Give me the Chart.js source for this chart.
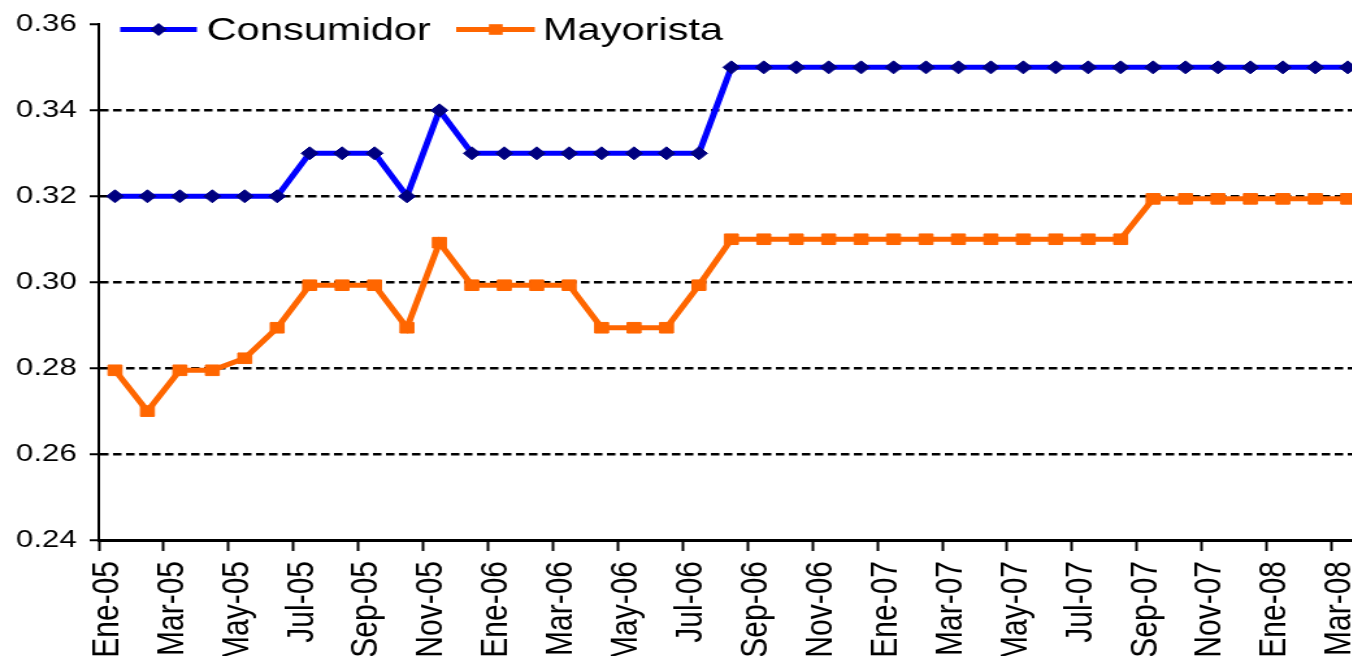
<!DOCTYPE html>
<html>
<head>
<meta charset="utf-8">
<script src="https://cdn.jsdelivr.net/npm/chart.js@4/dist/chart.umd.min.js"></script>
<style>
  html, body { margin: 0; padding: 0; background: #fff; overflow: hidden; }
</style>
</head>
<body>
<!-- the reference is stretched sideways, so the canvas is too (inline style so Chart.js keeps it) -->
<canvas id="precios" width="1058" height="656" style="display:block;width:1375.4px;height:656px;"></canvas>
<script>
const meses = [
  'Ene-05', 'Feb-05', 'Mar-05', 'Abr-05', 'May-05', 'Jun-05', 'Jul-05', 'Ago-05', 'Sep-05', 'Oct-05', 'Nov-05', 'Dic-05',
  'Ene-06', 'Feb-06', 'Mar-06', 'Abr-06', 'May-06', 'Jun-06', 'Jul-06', 'Ago-06', 'Sep-06', 'Oct-06', 'Nov-06', 'Dic-06',
  'Ene-07', 'Feb-07', 'Mar-07', 'Abr-07', 'May-07', 'Jun-07', 'Jul-07', 'Ago-07', 'Sep-07', 'Oct-07', 'Nov-07', 'Dic-07',
  'Ene-08', 'Feb-08', 'Mar-08'
];

const consumidor = [
  0.32, 0.32, 0.32, 0.32, 0.32, 0.32, 0.33, 0.33, 0.33, 0.32, 0.34, 0.33,
  0.33, 0.33, 0.33, 0.33, 0.33, 0.33, 0.33, 0.35, 0.35, 0.35, 0.35, 0.35,
  0.35, 0.35, 0.35, 0.35, 0.35, 0.35, 0.35, 0.35, 0.35, 0.35, 0.35, 0.35,
  0.35, 0.35, 0.35
];

const mayorista = [
  0.2795, 0.27, 0.2795, 0.2795, 0.2823, 0.2894, 0.2993, 0.2993, 0.2993, 0.2894, 0.3092, 0.2993,
  0.2993, 0.2993, 0.2993, 0.2894, 0.2894, 0.2894, 0.2993, 0.31, 0.31, 0.31, 0.31, 0.31,
  0.31, 0.31, 0.31, 0.31, 0.31, 0.31, 0.31, 0.31, 0.3194, 0.3194, 0.3194, 0.3194,
  0.3194, 0.3194, 0.3194
];

const yTicks = [0.24, 0.26, 0.28, 0.30, 0.32, 0.34, 0.36];

const FONT = '"Liberation Sans", Arial, sans-serif';
Chart.defaults.font.family = FONT;
Chart.defaults.color = '#000';

// legend drawn inside the plot, over the top band, like the original
const leyenda = {
  id: 'leyenda',
  afterDraw(chart, args, opts) {
    const ctx = chart.ctx;
    chart.data.datasets.forEach((ds, i) => {
      const it = opts.items[i];
      ctx.save();
      ctx.strokeStyle = ds.borderColor;
      ctx.lineWidth = ds.borderWidth;
      ctx.beginPath();
      ctx.moveTo(it.x0, opts.y);
      ctx.lineTo(it.x1, opts.y);
      ctx.stroke();

      const r = ds.pointRadius;
      ctx.fillStyle = ds.pointBackgroundColor;
      ctx.beginPath();
      if (ds.pointStyle === 'rectRot') {
        ctx.moveTo(it.mx, opts.y - r);
        ctx.lineTo(it.mx + r, opts.y);
        ctx.lineTo(it.mx, opts.y + r);
        ctx.lineTo(it.mx - r, opts.y);
      } else {
        const s = r * Math.SQRT1_2;
        ctx.rect(it.mx - s, opts.y - s, 2 * s, 2 * s);
      }
      ctx.closePath();
      ctx.fill();

      ctx.fillStyle = '#000';
      ctx.font = opts.fontSize + 'px ' + FONT;
      ctx.textBaseline = 'alphabetic';
      ctx.fillText(ds.label, it.tx, opts.baseline);
      ctx.restore();
    });
  }
};

new Chart(document.getElementById('precios'), {
  type: 'line',
  data: {
    labels: meses,
    datasets: [{
      label: 'Consumidor',
      data: consumidor,
      borderColor: '#0000FF',
      borderWidth: 5,
      pointStyle: 'rectRot',
      pointRadius: 6.5,
      pointBackgroundColor: '#000080',
      pointBorderColor: '#000080',
      pointBorderWidth: 1,
      tension: 0
    }, {
      label: 'Mayorista',
      data: mayorista,
      borderColor: '#FF6600',
      borderWidth: 5,
      pointStyle: 'rect',
      pointRadius: 7.5,
      pointBackgroundColor: '#FF6600',
      pointBorderColor: '#FF6600',
      pointBorderWidth: 1,
      tension: 0
    }]
  },
  options: {
    responsive: false,
    animation: false,
    layout: { padding: { top: 21, right: 0, bottom: 0, left: 0 } },
    plugins: {
      legend: { display: false },
      tooltip: { enabled: false },
      leyenda: {
        y: 29.5,
        baseline: 40,
        fontSize: 32,
        items: [
          { x0: 92.5, x1: 151.5, mx: 122, tx: 159 },
          { x0: 351, x1: 411.5, mx: 381.5, tx: 417.7 }
        ]
      }
    },
    scales: {
      x: {
        offset: true,
        grid: {
          offset: true,
          drawOnChartArea: false,
          drawTicks: true,
          tickLength: 11,
          tickWidth: 2,
          tickColor: ctx => (ctx.index % 2 === 0 ? '#000' : 'rgba(0,0,0,0)')
        },
        border: { color: '#000', width: 3 },
        ticks: {
          autoSkip: false,
          maxRotation: 90,
          minRotation: 90,
          padding: 10,
          labelOffset: -6,
          font: { size: 30 },
          callback: function (value, index) {
            return index % 2 === 0 ? this.getLabelForValue(value) : '';
          }
        },
        afterFit: scale => {
          scale.height = 116;
          scale.paddingLeft = 0;
          scale.paddingRight = 0;
        }
      },
      y: {
        min: yTicks[0],
        max: yTicks[yTicks.length - 1],
        afterBuildTicks: scale => { scale.ticks = yTicks.map(v => ({ value: v })); },
        grid: {
          color: ctx => (ctx.index === 0 || ctx.index === yTicks.length - 1 ? 'rgba(0,0,0,0)' : '#000'),
          lineWidth: 2.5,
          tickColor: '#000',
          tickLength: 7,
          tickWidth: 2,
          tickBorderDash: []
        },
        border: { color: '#000', width: 2, dash: [6.5, 3.5] },
        ticks: {
          padding: 10,
          font: { size: 24 },
          callback: value => value.toFixed(2)
        },
        afterFit: scale => { scale.width = 76; }
      }
    }
  },
  plugins: [leyenda]
});
</script>
</body>
</html>
